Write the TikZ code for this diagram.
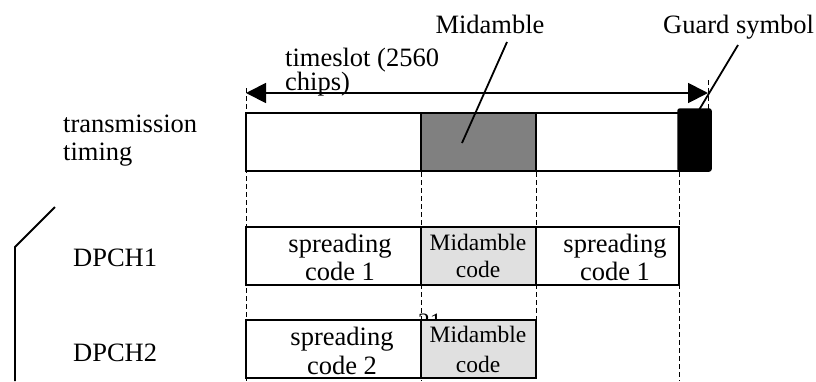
\documentclass[tikz,border=0pt]{standalone}
\usepackage{fontspec}
\setmainfont{Liberation Serif}
\usetikzlibrary{arrows.meta}
\definecolor{lightg}{HTML}{E0E0E0}
\definecolor{midg}{HTML}{808080}
\begin{document}
\begin{tikzpicture}[x=1pt,y=-1pt,
  lbl/.style={inner sep=0pt, anchor=base, font=\fontsize{26.5}{28}\selectfont},
  lblw/.style={lbl, anchor=base west},
  sml/.style={inner sep=0pt, anchor=base, font=\fontsize{23.5}{25}\selectfont},
  box/.style={draw, line width=2pt, anchor=north west, inner sep=0pt, outer sep=0pt, fill=white},
  vguide/.style={line width=0.8pt, dash pattern=on 5pt off 3pt},
  pointer/.style={line width=1.8pt},
]
\useasboundingbox (0,0) rectangle (816,381);

% guides
\coordinate (g1t) at (246,88);  \coordinate (g1b) at (246,381);
\coordinate (g2t) at (421,172); \coordinate (g2b) at (421,381);
\coordinate (g3t) at (536,172); \coordinate (g3b) at (536,320);
\coordinate (g4t) at (679,172); \coordinate (g4b) at (679,381);
\coordinate (g5t) at (708,80);  \coordinate (g5b) at (708,110);
\draw[vguide] (g1t) -- (g1b);
\draw[vguide] (g2t) -- (g2b);
\draw[vguide] (g3t) -- (g3b);
\draw[vguide] (g4t) -- (g4b);
\draw[vguide] (g5t) -- (g5b);

% timeslot arrow
\coordinate (al) at (246,93);
\coordinate (ar) at (708,93);
\draw[line width=1.8pt, {Triangle[length=20pt,width=20pt]}-{Triangle[length=20pt,width=20pt]}] (al) -- (ar);

% top bar
\node[box, minimum width=433pt, minimum height=58pt] (bar) at (246,113) {};
\node[box, fill=midg, minimum width=115pt, minimum height=58pt] (mid) at (421,113) {};
\node[draw, fill=black, line width=1.5pt, rounded corners=2pt, anchor=north west, inner sep=0pt, outer sep=0pt, minimum width=33pt, minimum height=62pt] (guard) at (678,109) {};

% labels top
\node[lbl] (midlbl) at (490,33) {Midamble};
\node[lblw] (guardlbl) at (663,33) {Guard symbol};
\node[lblw] (ts1) at (285,66) {timeslot (2560};
\node[lblw] (ts2) at (285,90) {chips)};
\node[lblw] (tr1) at (63,132) {transmission};
\node[lblw] (tr2) at (63,160) {timing};

% pointers
\coordinate (mp1) at (507,42); \coordinate (mp2) at (462,143);
\coordinate (gp1) at (738,45); \coordinate (gp2) at (699,110);
\draw[pointer] (mp1) -- (mp2);
\draw[pointer] (gp1) -- (gp2);

% row 1
\node[lblw] (d1) at (73,266) {DPCH1};
\node[box, minimum width=175pt, minimum height=58pt] (sc1) at (246,227) {};
\node[box, fill=lightg, minimum width=115pt, minimum height=58pt] (mc1) at (421,227) {};
\node[box, minimum width=143pt, minimum height=58pt] (sc1b) at (536,227) {};
\node[lbl] (t11) at (340,252) {spreading};
\node[lbl] (t12) at (340,280) {code 1};
\node[sml] (t13) at (478,250) {Midamble};
\node[sml] (t14) at (478,277) {code};
\node[lbl] (t15) at (615,252) {spreading};
\node[lbl] (t16) at (615,280) {code 1};

% row 2
\node[lblw] (d2) at (73,361) {DPCH2};
\node[sml, anchor=base west] (stray) at (418,329) {21};
\node[box, minimum width=175pt, minimum height=58pt] (sc2) at (246,320) {};
\node[box, fill=lightg, minimum width=115pt, minimum height=58pt] (mc2) at (421,320) {};
\node[lbl] (t21) at (342,345) {spreading};
\node[lbl] (t22) at (342,374) {code 2};
\node[sml] (t23) at (478,342) {Midamble};
\node[sml] (t24) at (478,372) {code};

% left bracket
\coordinate (b1) at (55,207); \coordinate (b2) at (15,247); \coordinate (b3) at (15,381);
\draw[pointer] (b1) -- (b2) -- (b3);
\end{tikzpicture}
\end{document}
